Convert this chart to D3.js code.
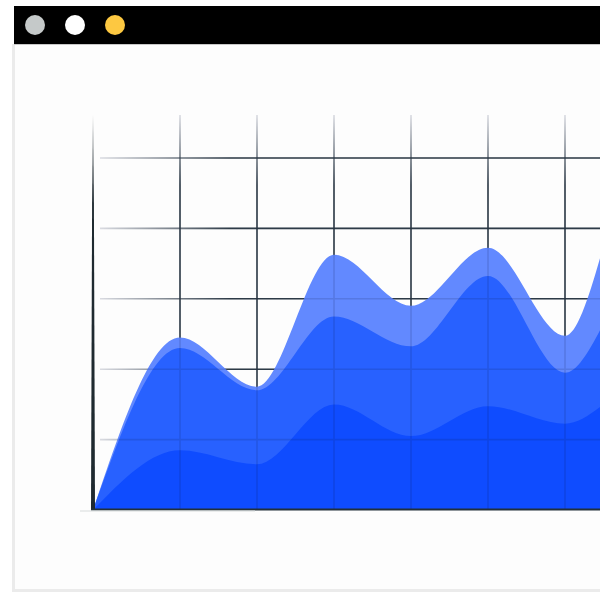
<!DOCTYPE html>
<html><head><meta charset="utf-8">
<script src="https://cdn.jsdelivr.net/npm/d3@7"></script>
<style>html,body{margin:0;padding:0;background:#fff;overflow:hidden}</style>
</head><body>
<svg id="c" width="600" height="600"></svg>
<script>
// ---- data ----
const periods = [0, 1, 2, 3, 4, 5, 6, 7, 8];
const baseSeries = [0, 17, 13, 30, 21, 29.5, 24.5, 35.5, 25];
const midSeries  = [0, 29, 21, 25, 25.5, 37, 14.5, 31.5, 20];
const topSeries  = [0, 3, 1, 17.5, 11.5, 8, 10.5, 33.5, 15];
const seriesKeys = ["base", "mid", "top"];
const yTicks = [20, 40, 60, 80, 100];
const xTicks = [1, 2, 3, 4, 5, 6, 7];
const seriesColors = ["#0f4cff", "#2861ff", "#6289ff"];
const dotColors = ["#c5c9c9", "#ffffff", "#fdc841"];

const rows = periods.map((p, i) => ({ p, base: baseSeries[i], mid: midSeries[i], top: topSeries[i] }));

const svg = d3.select("#c");
const defs = svg.append("defs");

// ---- window frame ----
svg.append("rect").attr("x", 12).attr("y", 44).attr("width", 600).attr("height", 548).attr("fill", "#ebebeb");
svg.append("rect").attr("x", 15).attr("y", 45).attr("width", 600).attr("height", 544).attr("fill", "#fdfdfd");
svg.append("rect").attr("x", 14).attr("y", 6).attr("width", 600).attr("height", 38).attr("fill", "#000");
svg.append("rect").attr("x", 14).attr("y", 44).attr("width", 600).attr("height", 1).attr("fill", "#c8c8c8");
svg.selectAll("circle.dot").data(dotColors).join("circle")
  .attr("class", "dot").attr("cx", (d, i) => 35 + i * 40).attr("cy", 25).attr("r", 10).attr("fill", d => d);

// ---- scales ----
const x = d3.scaleLinear().domain([0, 1, 7]).range([93, 180, 642]);
const y = d3.scaleLinear().domain([0, 100]).range([510, 158]);
const gridTop = 115;

// gradients for grid fades
function grad(id, x1, x2, y1, y2, color, op) {
  const g = defs.append("linearGradient").attr("id", id).attr("gradientUnits", "userSpaceOnUse")
    .attr("x1", x1).attr("x2", x2).attr("y1", y1).attr("y2", y2);
  g.append("stop").attr("offset", 0).attr("stop-color", color).attr("stop-opacity", 0);
  g.append("stop").attr("offset", 1).attr("stop-color", color).attr("stop-opacity", op);
}
grad("gh", 100, 230, 0, 0, "#2a3840", 0.95);
grad("gv", 0, 0, gridTop, 185, "#2a3840", 0.95);
grad("ga", 0, 0, gridTop, 200, "#1f2a30", 1);

function drawGrid(g, strokeH, strokeV, w) {
  g.selectAll("line.h").data(yTicks).join("line").attr("class", "h")
    .attr("x1", 100).attr("x2", 600).attr("y1", d => y(d)).attr("y2", d => y(d))
    .attr("stroke", strokeH).attr("stroke-width", w);
  g.selectAll("line.v").data(xTicks).join("line").attr("class", "v")
    .attr("x1", d => x(d)).attr("x2", d => x(d)).attr("y1", gridTop).attr("y2", y(0))
    .attr("stroke", strokeV).attr("stroke-width", w);
}

// ---- grid (under areas) ----
drawGrid(svg.append("g"), "url(#gh)", "url(#gv)", 1.6);

// ---- stacked areas (each filled down to baseline, drawn top layer first) ----
const stack = d3.stack().keys(seriesKeys);
const layers = stack(rows);
const area = d3.area()
  .x(d => x(d.data.p))
  .y0(y(0))
  .y1(d => y(d[1]))
  .curve(d3.curveMonotoneX);
svg.append("g").selectAll("path").data(layers.slice().reverse()).join("path")
  .attr("d", area)
  .attr("fill", d => seriesColors[d.index]);

// ---- faint grid showing through the areas ----
drawGrid(svg.append("g").attr("opacity", 0.14), "#0a1640", "#0a1640", 1.6);

// ---- axes ----
const x0 = x(0), yb = y(0);
svg.append("path")
  .attr("d", `M${x0 - 0.6},${gridTop} L${x0 + 0.6},${gridTop} L${x0 + 2},${yb} L${x0 - 2},${yb} Z`)
  .attr("fill", "url(#ga)");
svg.append("rect").attr("x", x0 - 2).attr("y", yb - 1.5).attr("width", 600).attr("height", 2).attr("fill", "#22303a");
svg.append("rect").attr("x", x0 - 13).attr("y", yb + 0.5).attr("width", 175).attr("height", 1).attr("fill", "#d8dcdc");
</script>
</body></html>
